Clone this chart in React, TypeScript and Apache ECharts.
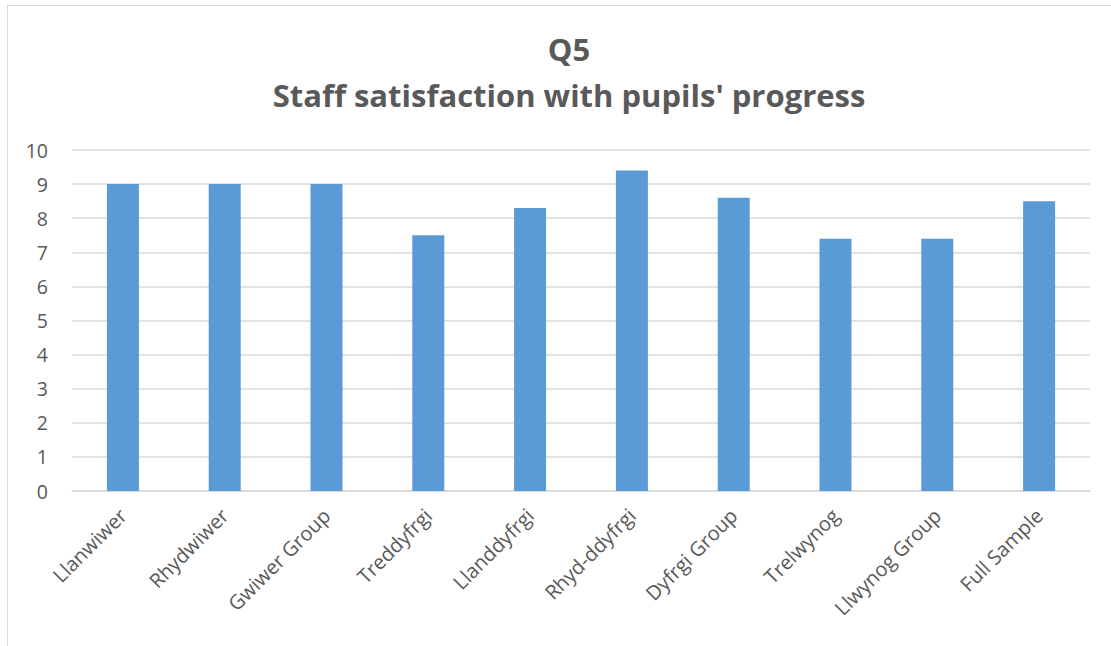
import React, { useEffect, useRef } from "react";
import * as echarts from "echarts";

const categories = [
  "Llanwiwer",
  "Rhydwiwer",
  "Gwiwer Group",
  "Treddyfrgi",
  "Llanddyfrgi",
  "Rhyd-ddyfrgi",
  "Dyfrgi Group",
  "Trelwynog",
  "Llwynog Group",
  "Full Sample",
];
const values = [9, 9, 9, 7.5, 8.3, 9.4, 8.6, 7.4, 7.4, 8.5];
const titleLines = ["Q5", "Staff satisfaction with pupils' progress"];

const FONT = "'Open Sans', 'Noto Sans', sans-serif";

export default function App() {
  const ref = useRef<HTMLDivElement>(null);
  useEffect(() => {
    if (!ref.current) return;
    const chart = echarts.init(ref.current, null, { renderer: "svg" });
    chart.setOption({
      animation: false,
      title: {
        text: titleLines.join("\n"),
        left: 563 - 7,
        top: 14.5,
        textAlign: "center",
        textStyle: {
          fontFamily: FONT,
          fontWeight: "bold",
          fontSize: 31,
          lineHeight: 46,
          color: "#595959",
        },
      },
      grid: { left: 72 - 8, top: 150 - 6, width: 1018, height: 341, containLabel: false },
      xAxis: {
        type: "category",
        data: categories,
        axisLine: { show: true, lineStyle: { color: "#d9d9d9", width: 1.5 } },
        axisTick: { show: false },
        axisLabel: {
          rotate: 45,
          interval: 0,
          margin: 21,
          fontFamily: FONT,
          fontSize: 20,
          color: "#595959",
        },
      },
      yAxis: {
        type: "value",
        min: 0,
        max: 10,
        interval: 1,
        axisLine: { show: false },
        axisTick: { show: false },
        splitLine: { lineStyle: { color: "#d9d9d9", width: 1.5 } },
        axisLabel: {
          margin: 24,
          fontFamily: FONT,
          fontSize: 19.5,
          color: "#595959",
        },
      },
      series: [
        {
          type: "bar",
          data: values,
          barWidth: 32,
          itemStyle: { color: "#5b9bd5" },
        },
      ],
    });
    return () => chart.dispose();
  }, []);
  return (
    <div
      style={{
        position: "fixed",
        left: 0,
        top: 0,
        width: 1111,
        height: 646,
        overflow: "hidden",
        background: "#fff",
      }}
    >
      <div
        style={{
          position: "absolute",
          left: 7,
          top: 5,
          width: 1200,
          height: 700,
          border: "1px solid #d9d9d9",
          boxSizing: "border-box",
        }}
      >
        <div ref={ref} style={{ position: "absolute", left: 0, top: 0, width: 1190, height: 690 }} />
      </div>
    </div>
  );
}
